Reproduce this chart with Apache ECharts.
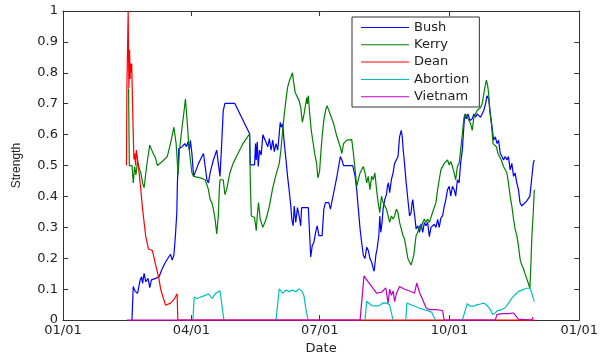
<!DOCTYPE html>
<html>
<head>
<meta charset="utf-8">
<script src="https://cdn.jsdelivr.net/npm/echarts@6/dist/echarts.min.js"></script>
<style>
html,body{margin:0;padding:0;background:#fff}
#main{width:601px;height:360px}
</style>
</head>
<body>
<div id="main"></div>
<script>
// x = day of year 2004 (0 = 01/01), y = strength
var tickDays = [0, 91, 182, 274, 366]
var tickLabels = ['01/01', '04/01', '07/01', '10/01', '01/01']
var names = ['Bush', 'Kerry', 'Dean', 'Abortion', 'Vietnam']

var bushDay = [48.9,49.8,51.2,52.9,54.7,55.7,56.4,57.5,58.7,60.3,61.5,62.7,65.7,68.1,70.4,72.7,76.2,77.4,78.6,79.7,
    80.7,81.1,81.6,82.1,84.4,86.3,87.5,88.6,89.6,90.3,91.4,92.6,93.8,96.1,98.5,99.6,100.8,102.0,103.1,104.3,
    106.6,109.0,110.1,111.3,112.5,113.6,114.8,121.8,132.3,132.8,135.8,136.5,137.0,137.7,138.4,139.3,140.5,141.7,143.3,145.2,
    146.3,147.5,148.7,149.8,151.0,152.2,153.3,154.0,154.7,155.7,156.9,158.0,159.2,160.4,161.5,162.2,163.2,163.9,165.0,166.2,
    167.4,168.5,169.2,173.9,174.9,175.6,176.7,177.9,179.1,180.2,181.4,183.7,184.9,186.1,187.2,188.4,189.6,191.9,194.2,195.4,
    196.6,197.7,198.9,205.4,207.1,208.2,209.4,210.6,211.7,212.9,214.1,215.3,216.4,217.6,218.8,219.9,220.6,221.8,222.7,223.9,
    224.6,225.3,226.2,226.9,228.1,229.3,230.0,230.7,231.6,232.8,234.0,235.1,236.3,237.5,238.6,239.8,240.5,241.2,242.1,243.3,
    244.5,245.7,246.8,247.5,248.0,248.7,249.6,250.3,251.5,252.7,253.8,255.0,256.2,257.3,258.5,259.7,260.9,262.0,263.2,264.4,
    265.6,266.7,267.9,269.1,270.3,271.4,272.6,273.8,274.9,276.1,277.3,278.4,279.6,280.8,281.9,283.1,284.3,285.0,285.9,287.1,
    288.5,290.1,291.3,292.5,293.6,294.8,296.0,297.1,298.3,299.5,300.6,301.8,303.0,304.2,305.3,306.5,307.7,308.8,310.0,311.2,
    312.3,313.5,314.7,315.8,317.0,318.2,319.4,320.5,321.7,322.9,324.0,325.2,326.4,328.7,331.0,332.2,333.4,334.1]
var bushVal = [0,0.109,0.093,0.087,0.13,0.14,0.119,0.151,0.124,0.135,0.105,0.13,0.135,0.14,0.167,0.188,0.213,0.194,0.21,0.273,
    0.348,0.444,0.497,0.555,0.561,0.571,0.561,0.577,0.55,0.582,0.539,0.465,0.47,0.507,0.529,0.539,0.497,0.454,0.444,0.476,
    0.518,0.55,0.507,0.465,0.571,0.678,0.701,0.701,0.603,0.502,0.502,0.571,0.518,0.577,0.497,0.55,0.534,0.6,0.582,0.561,
    0.587,0.55,0.582,0.545,0.571,0.55,0.603,0.64,0.624,0.635,0.571,0.523,0.465,0.417,0.369,0.327,0.305,0.369,0.316,0.364,
    0.337,0.305,0.364,0.364,0.273,0.204,0.241,0.252,0.284,0.305,0.273,0.273,0.359,0.38,0.385,0.38,0.359,0.412,0.465,0.497,
    0.529,0.518,0.5,0.5,0.465,0.422,0.359,0.295,0.252,0.21,0.199,0.236,0.226,0.199,0.188,0.167,0.158,0.21,0.231,0.273,
    0.337,0.284,0.316,0.359,0.39,0.406,0.433,0.444,0.412,0.454,0.476,0.507,0.518,0.529,0.593,0.614,0.593,0.55,0.507,0.444,
    0.39,0.337,0.348,0.38,0.39,0.359,0.327,0.295,0.305,0.284,0.311,0.284,0.316,0.305,0.316,0.27,0.3,0.295,0.31,0.3,
    0.326,0.3,0.33,0.337,0.369,0.39,0.422,0.433,0.401,0.433,0.422,0.401,0.454,0.444,0.507,0.55,0.635,0.667,0.651,0.667,
    0.646,0.651,0.667,0.656,0.667,0.661,0.656,0.661,0.678,0.699,0.726,0.715,0.667,0.624,0.582,0.593,0.571,0.582,0.539,0.529,
    0.518,0.529,0.518,0.529,0.486,0.507,0.465,0.476,0.444,0.422,0.38,0.369,0.375,0.385,0.401,0.454,0.507,0.518]

var kerryDay = [46.5,47.0,48.9,49.8,50.8,51.7,52.9,54.0,55.2,56.4,57.5,58.7,59.9,61.5,63.4,65.7,66.9,70.4,73.9,76.2,
    78.6,80.2,81.6,82.6,84.4,85.6,86.8,87.9,89.1,90.3,91.4,92.6,97.3,100.8,102.0,103.1,104.3,105.5,106.6,107.8,
    109.0,110.1,110.8,111.3,113.6,114.8,116.0,118.3,120.6,123.0,125.3,127.6,130.0,132.3,132.8,133.5,135.8,137.0,137.7,138.6,
    139.8,141.7,144.0,146.3,148.7,151.0,153.3,154.5,155.7,156.9,158.0,159.2,160.4,162.7,163.4,164.6,167.4,168.5,169.7,170.9,
    172.8,173.2,173.9,174.9,176.0,177.2,178.4,179.8,180.7,181.9,182.6,183.7,184.9,186.1,187.2,188.4,191.9,194.2,196.6,197.7,
    198.9,201.2,204.7,205.9,207.1,208.2,209.4,210.6,212.9,214.1,215.3,216.4,217.6,218.8,219.9,221.1,222.3,223.4,224.6,225.8,
    226.9,228.1,229.3,230.5,231.6,232.8,234.0,235.1,236.3,237.5,238.6,239.8,241.0,242.1,243.3,244.5,245.7,246.8,248.0,248.7,
    250.3,251.5,252.7,253.8,255.0,256.2,257.3,258.5,259.7,262.0,264.4,265.6,266.7,267.9,270.3,272.6,273.8,274.9,276.1,277.3,
    278.4,279.6,280.8,281.9,283.1,284.3,285.4,287.8,289.0,290.1,291.3,293.6,296.0,297.1,298.3,299.5,300.2,301.1,301.8,302.5,
    303.7,304.9,307.2,308.4,310.7,312.3,314.7,315.8,317.0,318.2,319.4,320.5,321.7,322.9,324.0,325.2,326.4,327.5,328.7,329.9,
    331.0,331.7,332.4,333.4,334.1]
var kerryVal = [0.749,0.5,0.5,0.444,0.497,0.47,0.513,0.491,0.476,0.444,0.428,0.476,0.518,0.566,0.545,0.523,0.5,0.513,0.529,0.571,
    0.624,0.571,0.47,0.55,0.624,0.667,0.715,0.651,0.571,0.518,0.476,0.465,0.46,0.454,0.438,0.422,0.39,0.38,0.359,0.327,
    0.279,0.337,0.422,0.454,0.454,0.406,0.422,0.476,0.507,0.529,0.55,0.571,0.587,0.603,0.444,0.337,0.332,0.289,0.337,0.38,
    0.327,0.3,0.327,0.369,0.428,0.47,0.507,0.55,0.614,0.667,0.71,0.752,0.773,0.8,0.773,0.736,0.71,0.688,0.64,0.667,
    0.72,0.699,0.726,0.667,0.614,0.577,0.539,0.507,0.46,0.481,0.529,0.593,0.646,0.678,0.694,0.688,0.635,0.593,0.56,0.539,
    0.571,0.582,0.584,0.539,0.486,0.433,0.438,0.476,0.497,0.476,0.444,0.465,0.422,0.465,0.454,0.476,0.422,0.38,0.348,0.401,
    0.38,0.385,0.359,0.337,0.316,0.337,0.327,0.337,0.359,0.348,0.316,0.295,0.273,0.263,0.231,0.199,0.188,0.178,0.178,0.21,
    0.273,0.284,0.305,0.295,0.316,0.327,0.316,0.327,0.316,0.348,0.38,0.422,0.454,0.486,0.507,0.518,0.502,0.513,0.497,0.476,
    0.454,0.497,0.507,0.55,0.603,0.656,0.667,0.646,0.635,0.614,0.656,0.678,0.688,0.699,0.731,0.763,0.776,0.757,0.731,0.678,
    0.635,0.571,0.561,0.539,0.518,0.497,0.476,0.444,0.401,0.369,0.327,0.295,0.273,0.241,0.199,0.178,0.167,0.151,0.135,0.119,
    0.103,0.178,0.273,0.348,0.422]

var deanDay = [45.0,45.3,46.2,46.7,47.2,47.6,47.9,48.4,48.7,49.3,49.8,50.3,50.8,51.5,52.0,52.6,54.0,55.2,56.4,57.5,
    58.7,60.6,63.4,64.5,65.7,68.0,69.2,70.4,72.7,76.2,78.6,80.9,81.4,334.5]
var deanVal = [0.5,0.75,1.0,0.75,0.875,0.78,0.83,0.8,0.83,0.7,0.6,0.52,0.54,0.5,0.55,0.53,0.475,0.42,0.36,0.316,
    0.27,0.23,0.225,0.22,0.178,0.135,0.1,0.082,0.048,0.055,0.066,0.085,0,0]

// null = no value (gap between blocks)
var abortDay = [92.1,93.0,94.9,100.8,103.1,105.9,107.8,111.3,112.0,114.1,130,
    151.0,153.3,155.7,158.0,160.4,162.7,165.0,167.4,169.7,170.9,172.1,173.7,190,
    214.1,215.3,216.4,218.8,222.3,224.6,227.0,229.3,231.5,232.5,234.0,238,
    243.0,243.8,247.5,252.0,256.0,259.0,261.5,262.5,264.0,270,
    283.1,286.6,289.0,291.3,293.6,296.0,298.3,300.6,303.0,304.5,305.5,306.5,307.7,311.2,313.5,315.8,318.2,320.5,322.9,325.2,
    328.7,331.0,332.2,334.1]
var abortVal = [0,0.075,0.07,0.08,0.085,0.07,0.085,0.095,0.095,0,null,
    0,0.101,0.087,0.097,0.092,0.097,0.092,0.101,0.092,0.077,0.039,0,null,
    0,0.061,0.06,0.047,0.045,0.048,0.056,0.055,0.05,0.03,0,null,
    0,0.055,0.048,0.04,0.034,0.03,0.025,0.014,0,null,
    0,0.053,0.045,0.045,0.05,0.052,0.055,0.048,0.034,0.018,0.013,0.023,0.03,0.034,0.04,0.055,0.071,0.082,0.093,0.097,
    0.103,0.103,0.09,0.06]

var vietDay = [45.4,210.6,213.4,215.3,218.8,222.3,225.8,228.8,230.5,231.6,232.8,234.0,235.1,236.3,238.6,242.2,245.7,249.2,250.8,252.7,
    255.0,257.4,259.7,264.4,269.1,270.2,306.5,307.6,311.1,315.8,319.3,320.5,322.8,324.0,332.2,333.3]
var vietVal = [0,0,0.143,0.13,0.109,0.087,0.09,0.104,0.055,0.1,0.08,0.094,0.06,0.085,0.109,0.1,0.094,0.087,0.12,0.09,
    0.066,0.04,0.034,0.034,0.031,0,0,0.018,0.021,0.021,0.023,0.018,0.003,0,0,0.01]

var colors = ['#0000ff', '#008000', '#ff0000', '#00bfbf', '#bf00bf']

function pairs(days, vals) {
    return days.map(function (d, i) {
        return [d, vals[i] === null ? '-' : vals[i]]
    })
}

var allData = [
    pairs(bushDay, bushVal),
    pairs(kerryDay, kerryVal),
    pairs(deanDay, deanVal),
    pairs(abortDay, abortVal),
    pairs(vietDay, vietVal)
]

var txtFont = 'DejaVu Sans'
var axisCol = '#333'

var showData = []
for (var i = 0; i < names.length; i++) {
    showData.push({
        name: names[i],
        type: 'line',
        data: allData[i],
        showSymbol: false,
        symbol: 'none',
        clip: false,
        connectNulls: false,
        lineStyle: { width: 1.2, color: colors[i] },
        itemStyle: { color: colors[i] }
    })
}

function xAx(pos) {
    return {
        type: 'value',
        position: pos,
        min: 0,
        max: 366,
        axisLine: { show: true, onZero: false, lineStyle: { color: axisCol, width: 1 } },
        axisTick: { show: true, inside: true, length: 5, customValues: tickDays, lineStyle: { color: axisCol } },
        axisLabel: {
            show: pos === 'bottom',
            customValues: tickDays,
            showMinLabel: true,
            showMaxLabel: true,
            margin: 4,
            fontFamily: txtFont,
            fontSize: 13,
            color: '#222',
            formatter: function (v) {
                return tickLabels[tickDays.indexOf(v)]
            }
        },
        splitLine: { show: false }
    }
}

function yAx(pos) {
    return {
        type: 'value',
        position: pos,
        min: 0,
        max: 1,
        interval: 0.1,
        axisLine: { show: true, onZero: false, lineStyle: { color: axisCol, width: 1 } },
        axisTick: { show: true, inside: true, length: 5, lineStyle: { color: axisCol } },
        axisLabel: {
            show: pos === 'left',
            margin: 5,
            fontFamily: txtFont,
            fontSize: 13,
            color: '#222'
        },
        splitLine: { show: false }
    }
}

var xBottom = xAx('bottom')
xBottom.name = 'Date'
xBottom.nameLocation = 'middle'
xBottom.nameGap = 21
xBottom.nameTextStyle = { fontFamily: txtFont, fontSize: 13, color: '#222' }

var yLeft = yAx('left')
yLeft.name = 'Strength'
yLeft.nameLocation = 'middle'
yLeft.nameGap = 40
yLeft.nameTextStyle = { fontFamily: 'Liberation Sans, Arial', fontSize: 12, color: '#222' }

var myChart = echarts.init(document.getElementById('main'), null, { renderer: 'canvas' })
var option = {
    backgroundColor: '#fff',
    animation: false,
    color: colors,
    grid: { left: 63, right: 16, top: 11, bottom: 36, containLabel: false },
    legend: {
        orient: 'vertical',
        left: 352,
        top: 17,
        padding: [3.5, 10, 3.3, 9],
        itemWidth: 48,
        itemHeight: 1,
        itemGap: 3.3,
        icon: 'rect',
        backgroundColor: '#fff',
        borderColor: '#333',
        borderWidth: 1,
        textStyle: { fontFamily: txtFont, fontSize: 13, color: '#222', lineHeight: 14 },
        data: names
    },
    xAxis: [xBottom, xAx('top')],
    yAxis: [yLeft, yAx('right')],
    series: showData
}
myChart.setOption(option)
</script>
</body>
</html>
